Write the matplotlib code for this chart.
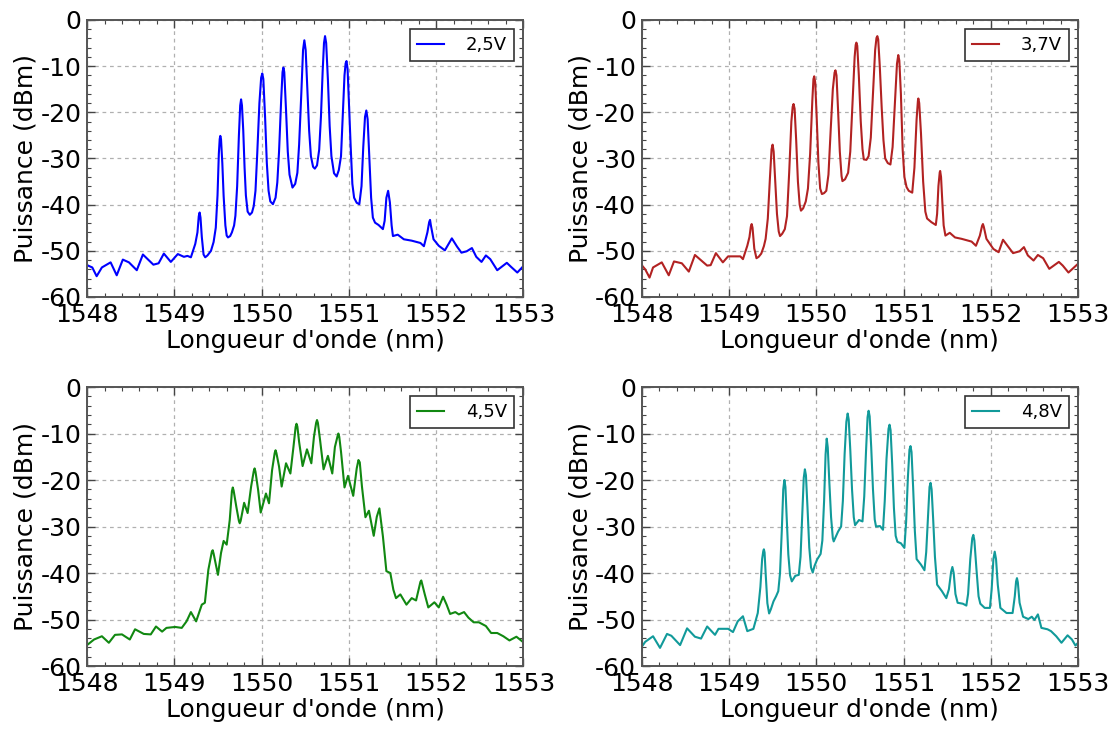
import matplotlib
matplotlib.use("Agg")
import matplotlib.pyplot as plt
from matplotlib.ticker import MultipleLocator

plt.rcParams['font.family'] = 'DejaVu Sans'
plt.rcParams['axes.unicode_minus'] = False

# spectra: (wavelength nm, power dBm)
spec_25 = [
    (1548.00, -53.1), (1548.06, -53.6), (1548.11, -55.5), (1548.17, -53.6), (1548.27, -52.5),
    (1548.34, -55.3), (1548.41, -51.9), (1548.48, -52.5), (1548.57, -54.2), (1548.64, -50.8),
    (1548.76, -53.0), (1548.82, -52.7), (1548.88, -50.6), (1548.96, -52.4), (1549.04, -50.7),
    (1549.11, -51.3), (1549.15, -51.1), (1549.19, -51.4), (1549.24, -48.5), (1549.265, -46.0),
    (1549.28, -42.5), (1549.29, -41.7), (1549.30, -42.8), (1549.315, -47.0), (1549.335, -50.8),
    (1549.354, -51.4), (1549.38, -51.0), (1549.42, -50.0), (1549.45, -48.1), (1549.475, -45.0),
    (1549.495, -38.0), (1549.51, -29.0), (1549.52, -25.8), (1549.527, -25.1), (1549.535, -25.8),
    (1549.55, -31.0), (1549.565, -38.1), (1549.585, -44.5), (1549.60, -46.7), (1549.615, -47.1),
    (1549.64, -46.8), (1549.66, -46.0), (1549.685, -44.5), (1549.70, -42.4), (1549.72, -36.0),
    (1549.74, -25.0), (1549.755, -18.5), (1549.765, -17.2), (1549.775, -18.5), (1549.79, -24.0),
    (1549.805, -32.0), (1549.82, -38.0), (1549.84, -41.5), (1549.865, -42.2), (1549.89, -41.7),
    (1549.91, -40.3), (1549.93, -37.0), (1549.95, -29.0), (1549.975, -18.0), (1549.995, -12.5),
    (1550.008, -11.6), (1550.02, -12.8), (1550.04, -21.0), (1550.06, -31.0), (1550.08, -37.0),
    (1550.10, -39.3), (1550.13, -39.9), (1550.16, -38.5), (1550.18, -35.2), (1550.20, -28.5),
    (1550.225, -17.0), (1550.24, -11.3), (1550.25, -10.3), (1550.26, -11.3), (1550.28, -19.5),
    (1550.30, -28.5), (1550.32, -33.5), (1550.354, -36.3), (1550.385, -35.5), (1550.41, -33.1),
    (1550.43, -27.0), (1550.455, -16.0), (1550.475, -6.5), (1550.49, -4.4), (1550.505, -6.5),
    (1550.525, -15.0), (1550.545, -24.0), (1550.565, -29.5), (1550.59, -31.8), (1550.61, -32.2),
    (1550.635, -31.5), (1550.66, -28.1), (1550.68, -21.0), (1550.70, -11.0), (1550.715, -5.0),
    (1550.727, -3.5), (1550.74, -5.0), (1550.76, -13.0), (1550.78, -23.0), (1550.80, -29.5),
    (1550.83, -33.2), (1550.86, -33.9), (1550.885, -32.5), (1550.91, -29.5), (1550.93, -21.0),
    (1550.95, -12.0), (1550.963, -9.4), (1550.973, -8.9), (1550.985, -10.5), (1551.00, -17.5),
    (1551.02, -27.0), (1551.04, -35.5), (1551.06, -38.5), (1551.09, -39.6), (1551.12, -39.9),
    (1551.145, -36.0), (1551.165, -27.5), (1551.185, -21.0), (1551.20, -19.6), (1551.215, -21.5),
    (1551.235, -30.0), (1551.255, -38.5), (1551.275, -42.8), (1551.30, -43.9), (1551.34, -44.4),
    (1551.39, -45.3), (1551.41, -43.5), (1551.43, -38.5), (1551.45, -37.0), (1551.47, -39.5),
    (1551.49, -44.5), (1551.505, -46.8), (1551.56, -46.5), (1551.63, -47.5), (1551.72, -47.8),
    (1551.82, -48.3), (1551.86, -49.0), (1551.90, -46.0), (1551.92, -43.8), (1551.93, -43.3),
    (1551.94, -44.5), (1551.97, -47.5), (1552.03, -48.9), (1552.10, -49.9), (1552.18, -47.3),
    (1552.24, -49.1), (1552.29, -50.4), (1552.35, -50.1), (1552.41, -49.4), (1552.46, -51.3),
    (1552.52, -52.4), (1552.57, -51.0), (1552.62, -51.8), (1552.70, -54.2), (1552.81, -52.6),
    (1552.86, -53.5), (1552.93, -54.7), (1553.00, -53.3),
]

spec_37 = [
    (1548.00, -53.1), (1548.04, -54.0), (1548.09, -55.8), (1548.13, -53.6), (1548.23, -52.5),
    (1548.31, -55.3), (1548.37, -52.3), (1548.46, -52.7), (1548.54, -54.5), (1548.61, -50.9),
    (1548.69, -52.2), (1548.75, -53.2), (1548.79, -53.1), (1548.85, -50.5), (1548.93, -52.5),
    (1548.99, -51.2), (1549.13, -51.2), (1549.16, -51.8), (1549.21, -48.9), (1549.235, -47.0),
    (1549.25, -44.8), (1549.26, -44.2), (1549.27, -45.0), (1549.29, -49.5), (1549.315, -51.6),
    (1549.34, -51.3), (1549.37, -50.6), (1549.40, -49.0), (1549.42, -47.4), (1549.445, -43.0),
    (1549.47, -34.0), (1549.488, -28.0), (1549.50, -27.0), (1549.512, -28.5), (1549.53, -35.0),
    (1549.55, -42.0), (1549.57, -45.8), (1549.585, -46.8), (1549.61, -46.3), (1549.64, -45.3),
    (1549.665, -42.5), (1549.69, -33.0), (1549.715, -22.0), (1549.73, -18.8), (1549.74, -18.2),
    (1549.752, -19.2), (1549.77, -26.0), (1549.79, -35.0), (1549.81, -40.0), (1549.825, -41.3),
    (1549.85, -40.8), (1549.88, -39.3), (1549.905, -36.5), (1549.93, -29.0), (1549.955, -17.5),
    (1549.968, -12.8), (1549.977, -12.2), (1549.988, -13.5), (1550.005, -21.0), (1550.025, -31.0),
    (1550.045, -36.5), (1550.065, -37.7), (1550.09, -37.5), (1550.115, -37.0), (1550.14, -33.5),
    (1550.165, -24.0), (1550.19, -15.0), (1550.21, -11.4), (1550.22, -10.9), (1550.232, -12.0),
    (1550.25, -19.5), (1550.27, -28.5), (1550.29, -33.8), (1550.30, -34.9), (1550.33, -34.5),
    (1550.365, -33.1), (1550.39, -28.5), (1550.415, -18.0), (1550.44, -8.0), (1550.452, -5.4),
    (1550.46, -4.9), (1550.47, -5.6), (1550.488, -12.0), (1550.51, -22.0), (1550.53, -28.0),
    (1550.545, -30.2), (1550.575, -30.3), (1550.60, -29.5), (1550.625, -25.5), (1550.65, -16.0),
    (1550.675, -6.5), (1550.69, -3.9), (1550.70, -3.5), (1550.71, -4.2), (1550.728, -10.0),
    (1550.75, -19.0), (1550.77, -26.0), (1550.79, -30.0), (1550.82, -31.0), (1550.85, -31.3),
    (1550.875, -27.5), (1550.90, -18.5), (1550.925, -9.5), (1550.94, -7.6), (1550.952, -8.8),
    (1550.97, -16.0), (1550.99, -28.0), (1551.01, -34.0), (1551.035, -36.2), (1551.06, -37.0),
    (1551.10, -37.4), (1551.125, -32.0), (1551.15, -21.5), (1551.165, -17.5), (1551.17, -17.0),
    (1551.18, -18.0), (1551.20, -24.5), (1551.225, -35.0), (1551.25, -41.5), (1551.27, -43.0),
    (1551.32, -43.8), (1551.37, -44.4), (1551.385, -42.0), (1551.40, -36.0), (1551.415, -33.0),
    (1551.42, -32.7), (1551.43, -34.0), (1551.445, -39.5), (1551.46, -44.5), (1551.48, -46.7),
    (1551.53, -46.1), (1551.59, -47.1), (1551.665, -47.4), (1551.78, -48.0), (1551.83, -48.9),
    (1551.875, -46.7), (1551.9, -44.6), (1551.91, -44.2), (1551.92, -44.8), (1551.95, -47.4),
    (1552.03, -49.6), (1552.09, -50.3), (1552.14, -47.6), (1552.20, -49.1), (1552.255, -50.5),
    (1552.33, -50.1), (1552.38, -49.2), (1552.425, -51.0), (1552.49, -52.1), (1552.54, -50.9),
    (1552.60, -51.6), (1552.67, -53.9), (1552.78, -52.4), (1552.825, -53.2), (1552.89, -54.7),
    (1553.00, -52.8),
]

spec_45 = [
    (1548.00, -55.5), (1548.08, -54.3), (1548.17, -53.6), (1548.25, -55.0), (1548.32, -53.3),
    (1548.40, -53.2), (1548.49, -54.3), (1548.55, -52.1), (1548.65, -53.1), (1548.73, -53.2),
    (1548.79, -51.5), (1548.86, -52.6), (1548.91, -51.8), (1549.01, -51.6), (1549.085, -51.8),
    (1549.14, -50.4), (1549.19, -48.4), (1549.25, -50.4), (1549.315, -46.8), (1549.35, -46.4),
    (1549.39, -39.3), (1549.43, -35.4), (1549.44, -35.1), (1549.45, -35.8), (1549.50, -40.4),
    (1549.535, -35.7), (1549.565, -33.1), (1549.60, -33.9), (1549.635, -28.6), (1549.66, -22.4),
    (1549.67, -21.6), (1549.68, -22.3), (1549.71, -25.7), (1549.74, -28.8), (1549.75, -29.3),
    (1549.76, -28.8), (1549.80, -24.9), (1549.84, -27.1), (1549.88, -21.4), (1549.91, -18.1),
    (1549.92, -17.5), (1549.93, -18.2), (1549.96, -22.1), (1549.99, -27.0), (1550.05, -22.9),
    (1550.085, -25.0), (1550.12, -17.9), (1550.15, -14.2), (1550.16, -13.6), (1550.17, -14.2),
    (1550.20, -17.1), (1550.23, -21.4), (1550.28, -16.4), (1550.33, -18.6), (1550.365, -12.9),
    (1550.39, -8.6), (1550.40, -7.9), (1550.41, -8.5), (1550.43, -11.8), (1550.47, -17.0),
    (1550.52, -13.4), (1550.57, -16.4), (1550.60, -10.7), (1550.625, -7.7), (1550.635, -7.1),
    (1550.645, -7.7), (1550.67, -11.4), (1550.71, -17.7), (1550.76, -14.8), (1550.81, -18.6),
    (1550.84, -12.9), (1550.87, -10.6), (1550.88, -10.0), (1550.89, -10.7), (1550.91, -13.9),
    (1550.95, -21.6), (1550.99, -19.1), (1551.05, -23.4), (1551.09, -17.5), (1551.11, -15.7),
    (1551.125, -16.2), (1551.15, -21.4), (1551.19, -28.0), (1551.23, -26.6), (1551.285, -32.0),
    (1551.32, -27.9), (1551.35, -26.1), (1551.39, -32.1), (1551.43, -39.6), (1551.475, -40.0),
    (1551.51, -43.6), (1551.54, -45.4), (1551.59, -44.6), (1551.66, -46.8), (1551.72, -45.4),
    (1551.77, -45.9), (1551.82, -41.9), (1551.83, -41.6), (1551.87, -44.6), (1551.91, -47.4),
    (1551.98, -46.3), (1552.03, -47.4), (1552.08, -45.1), (1552.12, -46.8), (1552.16, -48.8),
    (1552.22, -48.4), (1552.26, -48.9), (1552.32, -48.4), (1552.37, -49.6), (1552.43, -50.6),
    (1552.49, -50.6), (1552.57, -51.4), (1552.63, -52.9), (1552.70, -52.9), (1552.77, -53.6),
    (1552.84, -54.5), (1552.92, -53.7), (1553.00, -54.9),
]

spec_48 = [
    (1548.00, -55.9), (1548.04, -54.8), (1548.13, -53.6), (1548.21, -56.1), (1548.29, -53.1),
    (1548.34, -53.5), (1548.44, -55.5), (1548.52, -51.9), (1548.61, -53.7), (1548.68, -54.1),
    (1548.75, -51.5), (1548.84, -53.3), (1548.88, -52.0), (1548.99, -52.0), (1549.046, -52.7),
    (1549.10, -50.4), (1549.16, -49.3), (1549.21, -52.5), (1549.28, -52.0), (1549.33, -48.6),
    (1549.36, -43.0), (1549.38, -37.0), (1549.393, -35.3), (1549.40, -34.9), (1549.408, -35.6),
    (1549.42, -40.0), (1549.44, -46.5), (1549.46, -48.7), (1549.48, -47.8), (1549.51, -46.1),
    (1549.54, -45.0), (1549.565, -43.9), (1549.585, -40.0), (1549.605, -31.0), (1549.622, -22.0),
    (1549.635, -20.0), (1549.647, -21.5), (1549.66, -27.5), (1549.68, -36.0), (1549.70, -40.5),
    (1549.72, -41.8), (1549.76, -40.6), (1549.80, -40.4), (1549.82, -36.5), (1549.84, -27.0),
    (1549.857, -19.5), (1549.87, -17.7), (1549.882, -19.0), (1549.90, -26.0), (1549.92, -34.5),
    (1549.94, -38.8), (1549.96, -39.9), (1549.98, -38.5), (1550.01, -37.1), (1550.05, -35.9),
    (1550.07, -33.0), (1550.09, -24.5), (1550.107, -14.5), (1550.12, -11.1), (1550.132, -13.0),
    (1550.15, -20.5), (1550.17, -28.0), (1550.19, -32.5), (1550.20, -33.2), (1550.25, -31.1),
    (1550.285, -30.0), (1550.305, -24.5), (1550.325, -14.5), (1550.345, -7.5), (1550.36, -5.7),
    (1550.372, -7.0), (1550.39, -13.5), (1550.41, -22.0), (1550.43, -28.0), (1550.445, -29.7),
    (1550.49, -28.6), (1550.53, -28.9), (1550.55, -23.5), (1550.57, -14.0), (1550.588, -6.5),
    (1550.60, -5.1), (1550.612, -6.3), (1550.63, -13.0), (1550.65, -22.0), (1550.67, -28.5),
    (1550.685, -30.0), (1550.73, -29.9), (1550.765, -30.7), (1550.785, -24.5), (1550.805, -15.5),
    (1550.828, -9.0), (1550.84, -8.1), (1550.852, -9.3), (1550.87, -16.5), (1550.89, -26.0),
    (1550.91, -32.0), (1550.93, -33.3), (1550.97, -33.6), (1551.01, -34.6), (1551.03, -29.0),
    (1551.05, -19.5), (1551.068, -13.5), (1551.08, -12.7), (1551.092, -14.0), (1551.11, -21.5),
    (1551.13, -31.0), (1551.15, -37.0), (1551.20, -38.2), (1551.24, -39.4), (1551.26, -35.5),
    (1551.28, -28.0), (1551.298, -21.5), (1551.31, -20.6), (1551.322, -22.0), (1551.34, -28.5),
    (1551.36, -36.5), (1551.385, -42.5), (1551.44, -43.9), (1551.49, -45.4), (1551.52, -43.5),
    (1551.545, -39.8), (1551.56, -38.7), (1551.575, -40.0), (1551.595, -44.5), (1551.62, -46.4),
    (1551.68, -46.6), (1551.72, -47.0), (1551.74, -44.5), (1551.765, -37.0), (1551.788, -32.5),
    (1551.80, -31.8), (1551.812, -33.0), (1551.835, -39.0), (1551.86, -45.0), (1551.88, -46.6),
    (1551.93, -47.5), (1551.99, -47.5), (1552.01, -43.5), (1552.03, -37.0), (1552.045, -35.4),
    (1552.06, -37.0), (1552.08, -42.5), (1552.11, -47.5), (1552.18, -48.6), (1552.25, -48.6),
    (1552.275, -45.0), (1552.29, -41.8), (1552.30, -41.1), (1552.31, -42.0), (1552.33, -46.4),
    (1552.37, -49.4), (1552.43, -49.9), (1552.47, -49.4), (1552.50, -50.1), (1552.54, -48.9),
    (1552.58, -51.8), (1552.65, -52.1), (1552.69, -52.5), (1552.75, -53.6), (1552.81, -55.0),
    (1552.88, -53.4), (1552.93, -54.3), (1552.97, -55.6), (1553.00, -55.0),
]

labels = ['2,5V', '3,7V', '4,5V', '4,8V']
colors = ['#0000ff', '#b22222', '#118811', '#119a9a']
spectra = [spec_25, spec_37, spec_45, spec_48]

fig = plt.figure(figsize=(11.16, 7.29), dpi=100)
fig.patch.set_facecolor('white')
rects = [[0.078, 0.5926, 0.391, 0.380],
         [0.575, 0.5926, 0.391, 0.380],
         [0.078, 0.0864, 0.391, 0.3827],
         [0.575, 0.0864, 0.391, 0.3827]]

for rect, spec, c, lab in zip(rects, spectra, colors, labels):
    x = [p[0] for p in spec]
    y = [p[1] for p in spec]
    ax = fig.add_axes(rect)
    ax.plot(x, y, color=c, lw=1.5, label=lab, solid_joinstyle='round')
    ax.set_xlim(1548, 1553)
    ax.set_ylim(-60, 0)
    ax.xaxis.set_major_locator(MultipleLocator(1))
    ax.xaxis.set_minor_locator(MultipleLocator(0.2))
    ax.yaxis.set_major_locator(MultipleLocator(10))
    ax.yaxis.set_minor_locator(MultipleLocator(2))
    ax.tick_params(which='both', direction='in', top=True, right=True,
                   labelsize=18, pad=4, color='#444444')
    ax.tick_params(which='major', length=6, width=1)
    ax.tick_params(which='minor', length=3, width=0.8)
    ax.grid(True, which='major', linestyle='--', dashes=(3, 3),
            color='#b0b0b0', lw=0.9)
    for s in ax.spines.values():
        s.set_color('#555555')
        s.set_linewidth(1.4)
    ax.set_xlabel("Longueur d'onde (nm)", fontsize=18, labelpad=2)
    ax.set_ylabel('Puissance (dBm)', fontsize=18, labelpad=2)
    leg = ax.legend(loc='upper right', fontsize=13, fancybox=False,
                    handlelength=1.5, handletextpad=1.2, borderaxespad=0.5,
                    borderpad=0.4, framealpha=1)
    leg.get_frame().set_edgecolor('#333333')
    leg.get_frame().set_linewidth(1.2)

fig.savefig('out.png', dpi=100, facecolor='white')
